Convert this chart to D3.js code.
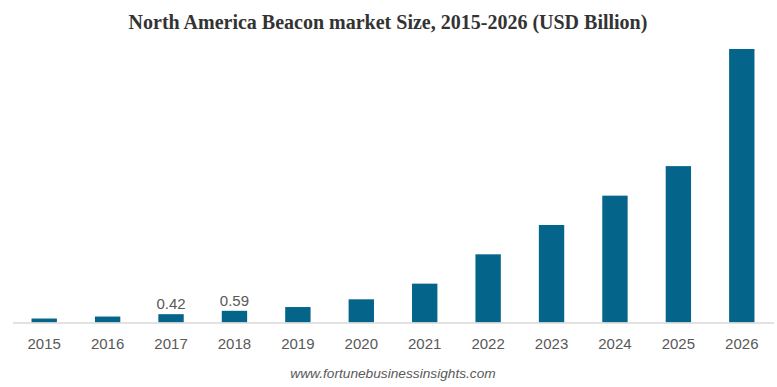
<!DOCTYPE html>
<html><head><meta charset="utf-8">
<script src="https://cdn.jsdelivr.net/npm/d3@7/dist/d3.min.js"></script>
<style>body{margin:0;background:#fff}svg{display:block}</style>
</head><body>
<svg id="c" width="777" height="387"></svg>
<script>
const years = ["2015","2016","2017","2018","2019","2020","2021","2022","2023","2024","2025","2026"];
const values = [0.20, 0.30, 0.42, 0.59, 0.78, 1.17, 1.96, 3.44, 4.92, 6.40, 7.89, 13.80];
const labeled = ["2017","2018"];
const title = "North America Beacon market Size, 2015-2026 (USD Billion)";
const source = "www.fortunebusinessinsights.com";

const svg = d3.select("#c");
const baseY = 322.5;
const x = d3.scaleBand().domain(years).range([12.5, 773.5]).paddingInner(0.6).paddingOuter(0.3);
const y = d3.scaleLinear().domain([0, 13.8]).range([baseY, 49]);

svg.append("text").attr("x", 388).attr("y", 29).attr("text-anchor","middle")
  .attr("font-family","'Liberation Serif','Times New Roman',serif").attr("font-weight","bold")
  .attr("font-size", 20).attr("fill","#333").text(title);

svg.selectAll("rect.bar").data(years).join("rect").attr("class","bar")
  .attr("x", d => x(d)).attr("width", x.bandwidth())
  .attr("y", (d,i) => y(values[i])).attr("height", (d,i) => baseY - y(values[i]))
  .attr("fill","#05648A");

const ax = svg.append("g").attr("transform", `translate(0,${baseY})`)
  .call(d3.axisBottom(x).tickSize(0).tickPadding(16));
ax.select(".domain").attr("stroke","#d9d9d9").attr("stroke-width",1.5);
ax.selectAll("text").attr("font-family","'Liberation Sans',Arial,sans-serif").attr("font-size",15).attr("fill","#595959");

svg.selectAll("text.val").data(years.filter(d => labeled.includes(d))).join("text").attr("class","val")
  .attr("x", d => x(d) + x.bandwidth()/2)
  .attr("y", d => y(values[years.indexOf(d)]) - 5)
  .attr("text-anchor","middle").attr("font-family","'Liberation Sans',Arial,sans-serif")
  .attr("font-size",15).attr("fill","#595959")
  .text(d => values[years.indexOf(d)].toFixed(2));

svg.append("text").attr("x", 393).attr("y", 378).attr("text-anchor","middle")
  .attr("font-family","'Liberation Sans',Arial,sans-serif").attr("font-style","italic")
  .attr("font-size",13.7).attr("fill","#595959").text(source);
</script>
</body></html>
